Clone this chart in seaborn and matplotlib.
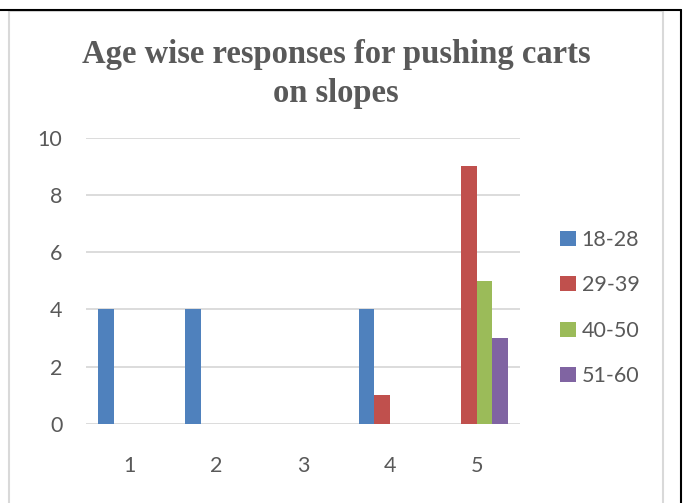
import matplotlib
matplotlib.use("Agg")
import matplotlib.pyplot as plt
from matplotlib.lines import Line2D
import seaborn as sns
import pandas as pd

# Survey responses by age group for each rating level
categories = ["1", "2", "3", "4", "5"]
age_groups = ["18-28", "29-39", "40-50", "51-60"]
counts_18_28 = [4, 4, 0, 4, 0]
counts_29_39 = [0, 0, 0, 1, 9]
counts_40_50 = [0, 0, 0, 0, 5]
counts_51_60 = [0, 0, 0, 0, 3]
y_ticks = [0, 2, 4, 6, 8, 10]

palette = ["#4F81BD", "#C0504D", "#9BBB59", "#8064A2"]
text_gray = "#595959"
grid_gray = "#D9D9D9"

rows = []
for group, vals in zip(age_groups, [counts_18_28, counts_29_39, counts_40_50, counts_51_60]):
    for cat, v in zip(categories, vals):
        rows.append({"category": cat, "age": group, "count": v})
df = pd.DataFrame(rows)

sns.set_theme(style="white")
plt.rcParams["font.family"] = ["Lato", "DejaVu Sans"]

W, H = 685, 503
fig = plt.figure(figsize=(W / 100, H / 100), dpi=100)
fig.patch.set_facecolor("white")


def fx(px):
    return px / W


def fy(py):
    return 1 - py / H


ax = fig.add_axes([fx(86), fy(424), fx(520) - fx(86), fy(137.5) - fy(424)])

sns.barplot(data=df, x="category", y="count", hue="age", order=categories,
            hue_order=age_groups, palette=palette, width=0.72, linewidth=0,
            saturation=1, ax=ax)

handles, labels = ax.get_legend_handles_labels()
if ax.get_legend() is not None:
    ax.get_legend().remove()

ax.set_ylim(0, 10)
ax.set_xlim(-0.5, 4.5)
ax.set_yticks(y_ticks)
ax.set_xlabel("")
ax.set_ylabel("")
ax.set_axisbelow(True)
ax.yaxis.grid(True, color=grid_gray, linewidth=1.3)
ax.xaxis.grid(False)
for s in ax.spines.values():
    s.set_visible(False)
ax.tick_params(axis="both", length=0, labelsize=15.5, labelcolor=text_gray)
ax.tick_params(axis="y", pad=17)
ax.tick_params(axis="x", pad=23)

fig.text(fx(336), fy(39), "Age wise responses for pushing carts\non slopes",
         ha="center", va="top", fontsize=23.5, fontweight="bold",
         family=["Liberation Serif", "DejaVu Serif"], color=text_gray,
         linespacing=1.34)

leg = fig.legend(handles, labels, loc="center left",
                 bbox_to_anchor=(fx(560), fy(308)), frameon=False,
                 fontsize=15.5, labelcolor=text_gray, handlelength=0.72,
                 handleheight=0.72, handletextpad=0.28, labelspacing=1.18,
                 borderaxespad=0, borderpad=0)

# Chart frame: light gray inner border and black outer lines
gray_lw = 1.5
fig.add_artist(Line2D([fx(8.5), fx(8.5)], [fy(11), 0], color=grid_gray, lw=gray_lw,
                      transform=fig.transFigure))
fig.add_artist(Line2D([fx(8.5), fx(663)], [fy(11), fy(11)], color=grid_gray, lw=gray_lw,
                      transform=fig.transFigure))
fig.add_artist(Line2D([fx(663), fx(663)], [fy(11), 0], color=grid_gray, lw=gray_lw,
                      transform=fig.transFigure))
fig.add_artist(Line2D([0, fx(681)], [fy(9.5), fy(9.5)], color="black", lw=1.5,
                      transform=fig.transFigure))
fig.add_artist(Line2D([fx(680.5), fx(680.5)], [fy(9.5), 0], color="black", lw=1.5,
                      transform=fig.transFigure))

fig.savefig("out.png", dpi=100, facecolor="white")
